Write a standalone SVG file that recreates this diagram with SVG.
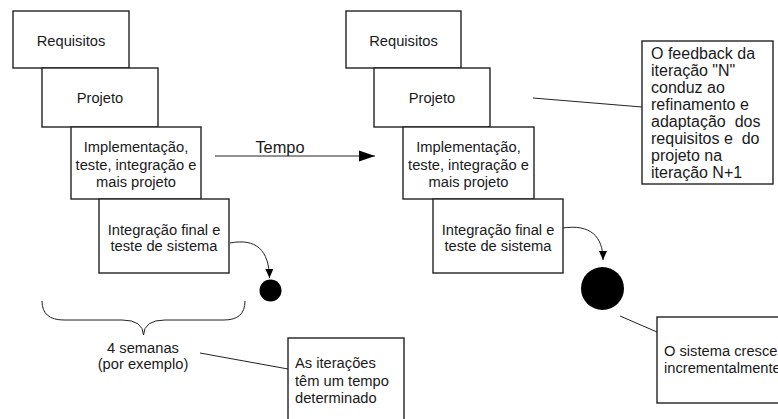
<svg xmlns="http://www.w3.org/2000/svg" width="778" height="419" viewBox="0 0 778 419">
<style>
.box{fill:#fff;stroke:#222;stroke-width:1.4}
.t{font-family:"Liberation Sans",Arial,sans-serif;font-size:14.7px;fill:#1a1a1a;text-anchor:middle}
.tl{font-family:"Liberation Sans",Arial,sans-serif;font-size:14.7px;fill:#1a1a1a}
.tf{font-family:"Liberation Sans",Arial,sans-serif;font-size:16px;fill:#1a1a1a;white-space:pre}
.ln{fill:none;stroke:#222;stroke-width:1}
</style>
<defs>
<marker id="ah" markerWidth="10" markerHeight="10" refX="9" refY="5" orient="auto" markerUnits="userSpaceOnUse">
<path d="M0,1 L9,5 L0,9 Z" fill="#000"/>
</marker>
<marker id="ah2" markerWidth="16" markerHeight="12" refX="16" refY="6" orient="auto" markerUnits="userSpaceOnUse">
<path d="M0,0.5 L16,6 L0,11.5 Z" fill="#000"/>
</marker>
</defs>
<g id="iter1">
<g id="req1"><rect class="box" x="13" y="11" width="116" height="57"/><text class="t" x="71" y="46">Requisitos</text></g>
<g id="proj1"><rect class="box" x="42" y="68" width="116" height="59"/><text class="t" x="100" y="103">Projeto</text></g>
<g id="impl1"><rect class="box" x="71" y="127" width="130" height="72"/><text class="t" x="136" y="152">Implementação,</text><text class="t" x="136" y="170">teste, integração e</text><text class="t" x="136" y="187">mais projeto</text></g>
<g id="integ1"><rect class="box" x="99" y="199" width="130" height="74"/><text class="t" x="164" y="235">Integração final e</text><text class="t" x="164" y="251">teste de sistema</text></g>
<g id="dot1"><circle cx="270.5" cy="290.5" r="11" fill="#000"/></g>
</g>
<g id="iter2">
<g id="req2"><rect class="box" x="346" y="11" width="115" height="57"/><text class="t" x="403.5" y="46">Requisitos</text></g>
<g id="proj2"><rect class="box" x="374" y="68" width="116" height="59"/><text class="t" x="432" y="103">Projeto</text></g>
<g id="impl2"><rect class="box" x="403" y="127" width="131" height="72"/><text class="t" x="468.5" y="152">Implementação,</text><text class="t" x="468.5" y="170">teste, integração e</text><text class="t" x="468.5" y="187">mais projeto</text></g>
<g id="integ2"><rect class="box" x="433" y="199" width="130" height="74"/><text class="t" x="498" y="235">Integração final e</text><text class="t" x="498" y="251">teste de sistema</text></g>
<g id="dot2"><circle cx="602.5" cy="288.5" r="21.5" fill="#000"/></g>
</g>
<g id="feedback"><rect class="box" x="642" y="41" width="131" height="143"/>
<text class="tf" x="651" y="59">O feedback da</text>
<text class="tf" x="651" y="76">iteração "N"</text>
<text class="tf" x="651" y="93">conduz ao</text>
<text class="tf" x="651" y="110">refinamento e</text>
<text class="tf" x="651" y="127" xml:space="preserve">adaptação  dos</text>
<text class="tf" x="651" y="144" xml:space="preserve">requisitos e  do</text>
<text class="tf" x="651" y="161">projeto na</text>
<text class="tf" x="651" y="178">iteração N+1</text>
</g>
<g id="note-iter"><rect class="box" x="288" y="338" width="116" height="100"/>
<text class="tl" x="295" y="368">As iterações</text>
<text class="tl" x="295" y="386">têm um tempo</text>
<text class="tl" x="295" y="403">determinado</text>
</g>
<g id="note-sistema"><rect class="box" x="657" y="317" width="140" height="86"/>
<text class="tl" x="664" y="356">O sistema cresce</text>
<text class="tl" x="664" y="373">incrementalmente</text>
</g>
<g id="semanas">
<text class="t" x="143" y="353">4 semanas</text>
<text class="t" x="143" y="369">(por exemplo)</text>
</g>
<g id="tempo"><text class="tf" x="280" y="153" text-anchor="middle" style="font-size:16.4px">Tempo</text></g>
<g id="connectors">
<path class="ln" d="M215,156 L375,156" marker-end="url(#ah2)"/>
<path class="ln" d="M230,243 C256,238 269,250 269.5,278" marker-end="url(#ah)"/>
<path class="ln" d="M563,228 C590,224 603,236 603,260" marker-end="url(#ah)"/>
<path class="ln" d="M533,98 L642,107"/>
<path class="ln" d="M200,353 L288,369"/>
<path class="ln" d="M620,316 L657,332"/>
<path class="ln" d="M42,301 Q42,320 64,320 L122,320 Q143,320 143.5,335 Q144,320 165,320 L224,320 Q245,320 245,301"/>
</g>
</svg>
